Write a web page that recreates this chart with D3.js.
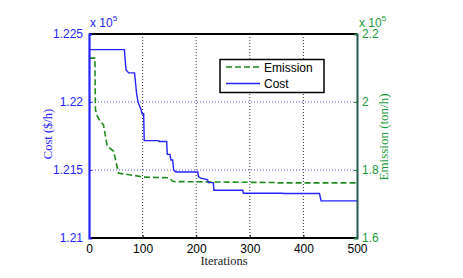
<!DOCTYPE html>
<html>
<head>
<meta charset="utf-8">
<script src="https://d3js.org/d3.v7.min.js"></script>
<style>
  body { margin: 0; background: #fff; }
</style>
</head>
<body>
<div id="chart"></div>
<script>
// cost curve (left axis), x 10^5 $/h
var costIter = [0, 66, 69, 74, 85, 89, 92, 97, 99, 102, 103, 130, 131, 145, 146, 151, 153, 156, 158, 161, 162, 203, 204, 208, 221, 223, 232, 233, 287, 288, 362, 363, 430, 433, 500];
var costVal = [1.22385, 1.22385, 1.22238, 1.22214, 1.22214, 1.22055, 1.21994, 1.21945, 1.21914, 1.21914, 1.21716, 1.21716, 1.2171, 1.2171, 1.21615, 1.21615, 1.21573, 1.21573, 1.2150, 1.2149, 1.21485, 1.21485, 1.21452, 1.2144, 1.2143, 1.21407, 1.21407, 1.21351, 1.21351, 1.21329, 1.21329, 1.21327, 1.21327, 1.21273, 1.21273];
// emission curve (right axis), x 10^5 ton/h
var emisIter = [0, 11, 12, 15, 21, 27, 34, 46, 55, 58, 96, 102, 149, 157, 348, 350, 500];
var emisVal = [2.129, 2.129, 1.977, 1.960, 1.943, 1.933, 1.870, 1.855, 1.791, 1.790, 1.781, 1.779, 1.777, 1.766, 1.763, 1.762, 1.762];
var xTicks = [0, 100, 200, 300, 400, 500];
var costTicks = [1.21, 1.215, 1.22, 1.225];
var emisTicks = [1.6, 1.8, 2, 2.2];

var W = 463, H = 278;
var pL = 89, pR = 357, pT = 34, pB = 238;
var blue = "#2424ff", green = "#1f8a1f", greenTxt = "#1a9a3a";
var sans = "Arial, 'Liberation Sans', sans-serif";
var serif = "'Liberation Serif', 'Times New Roman', serif";

var svg = d3.select("#chart").append("svg").attr("width", W).attr("height", H);

var x = d3.scaleLinear().domain([0, 500]).range([pL, pR]);
var yc = d3.scaleLinear().domain([1.21, 1.225]).range([pB, pT]);
var ye = d3.scaleLinear().domain([1.6, 2.2]).range([pB, pT]);

// grid
svg.selectAll(".vgrid").data(xTicks.slice(1, 5)).enter().append("line")
  .attr("x1", d => x(d)).attr("x2", d => x(d)).attr("y1", pT).attr("y2", pB)
  .attr("stroke", "#000").attr("stroke-width", 0.8).attr("stroke-dasharray", "1,2");
svg.selectAll(".hgrid").data([1.215, 1.22]).enter().append("line")
  .attr("x1", pL).attr("x2", pR).attr("y1", d => yc(d)).attr("y2", d => yc(d))
  .attr("stroke", blue).attr("stroke-width", 0.8).attr("stroke-dasharray", "1,2");

// lines
var costData = costIter.map((d, i) => [d, costVal[i]]);
var emisData = emisIter.map((d, i) => [d, emisVal[i]]);
svg.append("path").datum(emisData)
  .attr("d", d3.line().x(d => x(d[0])).y(d => ye(d[1])))
  .attr("fill", "none").attr("stroke", green).attr("stroke-width", 1.6).attr("stroke-dasharray", "6,3");
svg.append("path").datum(costData)
  .attr("d", d3.line().x(d => x(d[0])).y(d => yc(d[1])))
  .attr("fill", "none").attr("stroke", blue).attr("stroke-width", 1.4);

// frame
svg.append("line").attr("x1", pL).attr("x2", pR).attr("y1", pT).attr("y2", pT).attr("stroke", "#000").attr("stroke-width", 2);
svg.append("line").attr("x1", pL).attr("x2", pR).attr("y1", pB).attr("y2", pB).attr("stroke", "#000").attr("stroke-width", 2);

// x axis
var xa = svg.append("g").attr("transform", "translate(0," + pB + ")")
  .call(d3.axisBottom(x).tickValues(xTicks).tickFormat(d3.format("d")).tickSize(-3).tickPadding(6));
xa.select(".domain").remove();
xa.selectAll("text").attr("font-size", 12).attr("fill", "#000").attr("font-family", sans);

// left axis
var ya = svg.append("g").attr("transform", "translate(" + pL + ",0)")
  .call(d3.axisLeft(yc).tickValues(costTicks).tickFormat(d => String(+d.toFixed(3))).tickSize(-3).tickPadding(6));
ya.select(".domain").attr("stroke", blue).attr("stroke-width", 2.2);
ya.selectAll(".tick line").attr("stroke", blue);
ya.selectAll("text").attr("font-size", 12).attr("fill", blue).attr("font-family", sans);

// right axis
var yb = svg.append("g").attr("transform", "translate(" + pR + ",0)")
  .call(d3.axisRight(ye).tickValues(emisTicks).tickFormat(d => String(+d.toFixed(1))).tickSize(-3).tickPadding(5));
yb.select(".domain").attr("stroke", "#1f5a52").attr("stroke-width", 2);
yb.selectAll(".tick line").attr("stroke", green);
yb.selectAll("text").attr("font-size", 12).attr("fill", greenTxt).attr("font-family", sans);

// exponent labels
function expo(xp, color) {
  var t = svg.append("text").attr("x", xp).attr("y", 27).attr("font-size", 12)
    .attr("font-family", sans).attr("fill", color);
  t.append("tspan").text("x 10");
  t.append("tspan").attr("dy", -6).attr("font-size", 8).text("5");
}
expo(pL + 1, blue);
expo(pR + 2, greenTxt);

// axis titles
svg.append("text").attr("transform", "translate(52,134) rotate(-90)").attr("text-anchor", "middle")
  .attr("font-family", serif).attr("font-size", 12.5).attr("fill", blue)
  .text("Cost ($/h)");
svg.append("text").attr("transform", "translate(388,137) rotate(-90)").attr("text-anchor", "middle")
  .attr("font-family", serif).attr("font-size", 13).attr("fill", greenTxt)
  .text("Emission (ton/h)");
svg.append("text").attr("x", 224).attr("y", 265).attr("text-anchor", "middle")
  .attr("font-family", serif).attr("font-size", 12.5).attr("fill", "#222")
  .text("Iterations");

// legend
var lg = svg.append("g");
lg.append("rect").attr("x", 220).attr("y", 59.5).attr("width", 104).attr("height", 33)
  .attr("fill", "#fff").attr("stroke", "#000").attr("stroke-width", 1.5);
var items = [["Emission", green, "6,3"], ["Cost", blue, null]];
items.forEach(function (it, i) {
  var cy = 67 + i * 16.5;
  lg.append("line").attr("x1", 226).attr("x2", 260).attr("y1", cy).attr("y2", cy)
    .attr("stroke", it[1]).attr("stroke-width", 1.6).attr("stroke-dasharray", it[2]);
  lg.append("text").attr("x", 264).attr("y", cy + 4.5).attr("font-size", 12)
    .attr("font-family", sans).attr("fill", "#000").text(it[0]);
});
</script>
</body>
</html>
